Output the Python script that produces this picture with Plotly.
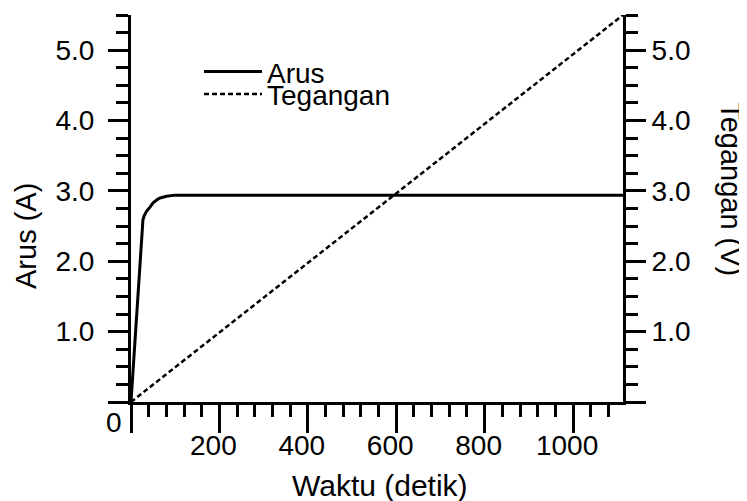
import plotly.graph_objects as go

# ---- data ----
waktu_arus = [0, 25, 27, 30, 35, 43, 50, 60, 66, 80, 100, 1113]
arus = [0, 2.55, 2.59, 2.65, 2.71, 2.77, 2.83, 2.88, 2.90, 2.925, 2.94, 2.94]

waktu_tegangan = [0, 1113]
tegangan = [0, 5.5]

x_tickvals = [0, 200, 400, 600, 800, 1000]
x_ticktext = ["", "200", "400", "600", "800", "1000"]
y_tickvals = [0, 1, 2, 3, 4, 5]
y_ticktext = ["", "1.0", "2.0", "3.0", "4.0", "5.0"]

FONT = "Arial, Liberation Sans, sans-serif"

fig = go.Figure()
fig.add_trace(go.Scatter(x=waktu_arus, y=arus, mode="lines", name="Arus",
                         line=dict(color="black", width=3), yaxis="y", legend="legend"))
fig.add_trace(go.Scatter(x=waktu_tegangan, y=tegangan, mode="lines", name="Tegangan",
                         line=dict(color="black", width=2.5, dash="5px,3px"), yaxis="y2",
                         legend="legend2"))

axis_common = dict(showline=True, linecolor="black", linewidth=3, showgrid=False,
                   zeroline=False, ticks="outside", tickcolor="black", tickwidth=3,
                   tickfont=dict(family=FONT, size=28, color="black"))
minor_y = dict(dtick=0.25, tick0=0, ticklen=12, tickwidth=3, tickcolor="black", ticks="outside")

legend_common = dict(xanchor="left", yanchor="middle", bgcolor="rgba(0,0,0,0)",
                     font=dict(family=FONT, size=28, color="black"), itemwidth=58,
                     borderwidth=0)

fig.update_layout(
    width=739, height=493,
    margin=dict(l=123, r=124, t=7, b=99),
    paper_bgcolor="white", plot_bgcolor="white",
    font=dict(family=FONT, color="black"),
    xaxis=dict(range=[0, 1113], tickmode="array", tickvals=x_tickvals, ticktext=x_ticktext,
               ticklen=28, ticklabelshift=-6, ticklabelstandoff=-12,
               minor=dict(dtick=40, tick0=0, ticklen=12, tickwidth=3, tickcolor="black", ticks="outside"),
               **axis_common),
    yaxis=dict(range=[0, 5.5], tickmode="array", tickvals=y_tickvals, ticktext=y_ticktext,
               ticklen=20, ticklabelstandoff=8, minor=minor_y, **axis_common),
    yaxis2=dict(range=[0, 5.5], overlaying="y", side="right", anchor="x",
                tickmode="array", tickvals=y_tickvals, ticktext=y_ticktext, ticklen=20,
                minor=minor_y, **axis_common),
    legend=dict(x=0.1382, y=0.853, **legend_common),
    legend2=dict(x=0.1382, y=0.795, **legend_common),
    showlegend=True,
)

fig.add_annotation(text="0", xref="paper", yref="paper", x=-0.0346, y=-0.0517,
                   showarrow=False, font=dict(family=FONT, size=28, color="black"),
                   xanchor="center", yanchor="middle")
fig.add_annotation(text="Waktu (detik)", xref="paper", yref="paper", x=0.506, y=-0.217,
                   showarrow=False, font=dict(family=FONT, size=30, color="black"),
                   xanchor="center", yanchor="middle")
fig.add_annotation(text="Arus (A)", xref="paper", yref="paper", x=-0.2134, y=0.429,
                   showarrow=False, textangle=-90, font=dict(family=FONT, size=29, color="black"),
                   xanchor="center", yanchor="middle")
fig.add_annotation(text="Tegangan (V)", xref="paper", yref="paper", x=1.2195, y=0.55,
                   showarrow=False, textangle=90, font=dict(family=FONT, size=29, color="black"),
                   xanchor="center", yanchor="middle")

fig.write_html("out.html")
